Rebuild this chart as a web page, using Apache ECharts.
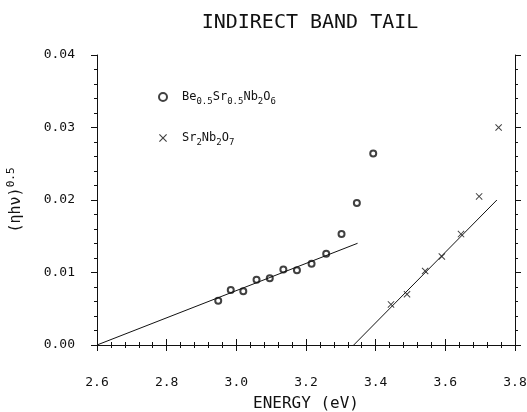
<!DOCTYPE html>
<html><head><meta charset="utf-8">
<script src="https://cdn.jsdelivr.net/npm/echarts@6/dist/echarts.min.js"></script>
<style>html,body{margin:0;padding:0;background:#fff}#c{width:527px;height:412px}</style>
</head><body><div id="c"></div>
<script>
// Be0.5Sr0.5Nb2O6 (open circles)
var beEnergy = [2.948, 2.984, 3.020, 3.058, 3.096, 3.135, 3.174, 3.216, 3.258, 3.302, 3.346, 3.393];
var beValue  = [0.0061, 0.0076, 0.0074, 0.0090, 0.0092, 0.0104, 0.0103, 0.0112, 0.0126, 0.0153, 0.0196, 0.0264];
// Sr2Nb2O7 (crosses)
var srEnergy = [3.444, 3.490, 3.542, 3.590, 3.645, 3.697, 3.753];
var srValue  = [0.0056, 0.0070, 0.0102, 0.0122, 0.0153, 0.0205, 0.0300];
// fitted straight lines (endpoints)
var beFitE = [2.600, 3.348];
var beFitV = [0.0000, 0.01403];
var srFitE = [3.337, 3.748];
var srFitV = [0.0000, 0.0200];
var xTicks = [2.6, 2.8, 3.0, 3.2, 3.4, 3.6, 3.8];
var yTicks = [0.00, 0.01, 0.02, 0.03, 0.04];

function pairs(a, b) { return a.map(function (v, i) { return [v, b[i]]; }); }
var crossPath = 'path://M0,1 L1,0 L5,4 L9,0 L10,1 L6,5 L10,9 L9,10 L5,6 L1,10 L0,9 L4,5 Z';
var FONT = 'DejaVu Sans Mono';
var INK = '#111';

var chart = echarts.init(document.getElementById('c'));
var axisCommon = {
  axisLine: { show: true, lineStyle: { color: INK, width: 1 } },
  splitLine: { show: false },
  minorTick: { show: true, splitNumber: 5, length: 3, lineStyle: { color: INK } },
  axisTick: { show: true, length: 6, inside: false, lineStyle: { color: INK } }
};
chart.setOption({
  backgroundColor: '#fff',
  animation: false,
  title: {
    text: 'INDIRECT BAND TAIL',
    left: 305, top: 8, textAlign: 'center',
    textStyle: { fontFamily: FONT, fontSize: 20, fontWeight: 'normal', color: INK }
  },
  grid: { left: 97, right: 12, top: 55, bottom: 67, containLabel: false, outerBoundsMode: 'none' },
  legend: {
    orient: 'vertical', left: 153, top: 86, itemGap: 26,
    itemWidth: 8, itemHeight: 8,
    data: [
      { name: 'be', icon: 'emptyCircle' },
      { name: 'sr', icon: crossPath }
    ],
    formatter: function (n) {
      return n === 'be'
        ? 'Be{s|0.5}Sr{s|0.5}Nb{s|2}O{s|6}'
        : 'Sr{s|2}Nb{s|2}O{s|7}';
    },
    textStyle: {
      fontFamily: FONT, fontSize: 12, color: INK, padding: [0, 0, 0, 10],
      rich: { s: { fontFamily: FONT, fontSize: 9, color: INK, padding: [9, 0, 0, 0] } }
    }
  },
  xAxis: [
    Object.assign({}, axisCommon, {
      type: 'value', min: 2.6, max: 3.8, interval: 0.2, position: 'bottom',
      name: 'ENERGY (eV)', nameLocation: 'middle', nameGap: 51,
      nameTextStyle: { fontFamily: FONT, fontSize: 16, color: INK },
      axisLabel: { margin: 31, fontFamily: FONT, fontSize: 13, color: INK,
        formatter: function (v) { return v.toFixed(1); } }
    }),
    Object.assign({}, axisCommon, {
      type: 'value', min: 2.6, max: 3.8, interval: 0.2, position: 'top',
      axisLabel: { show: false }
    })
  ],
  yAxis: [
    Object.assign({}, axisCommon, {
      type: 'value', min: 0, max: 0.04, interval: 0.01, position: 'left',
      name: '(ηhν){p|0.5}', nameLocation: 'middle', nameGap: 70, nameRotate: 90,
      nameTextStyle: { fontFamily: FONT, fontSize: 15, color: INK,
        rich: { p: { fontFamily: FONT, fontSize: 11, color: INK, padding: [0, 0, 10, 0] } } },
      axisLabel: { margin: 22, fontFamily: FONT, fontSize: 13, color: INK,
        formatter: function (v) { return v.toFixed(2); } }
    }),
    Object.assign({}, axisCommon, {
      type: 'value', min: 0, max: 0.04, interval: 0.01, position: 'right',
      axisLabel: { show: false }
    })
  ],
  series: [
    { name: 'be', type: 'scatter', data: pairs(beEnergy, beValue),
      symbol: 'emptyCircle', symbolSize: 6,
      itemStyle: { color: INK, borderWidth: 1 } },
    { name: 'sr', type: 'scatter', data: pairs(srEnergy, srValue),
      symbol: crossPath, symbolSize: 7,
      itemStyle: { color: INK } },
    { name: 'beFit', type: 'line', data: pairs(beFitE, beFitV), symbol: 'none',
      lineStyle: { color: INK, width: 1 } },
    { name: 'srFit', type: 'line', data: pairs(srFitE, srFitV), symbol: 'none',
      lineStyle: { color: INK, width: 1 } }
  ]
});
</script>
</body></html>
